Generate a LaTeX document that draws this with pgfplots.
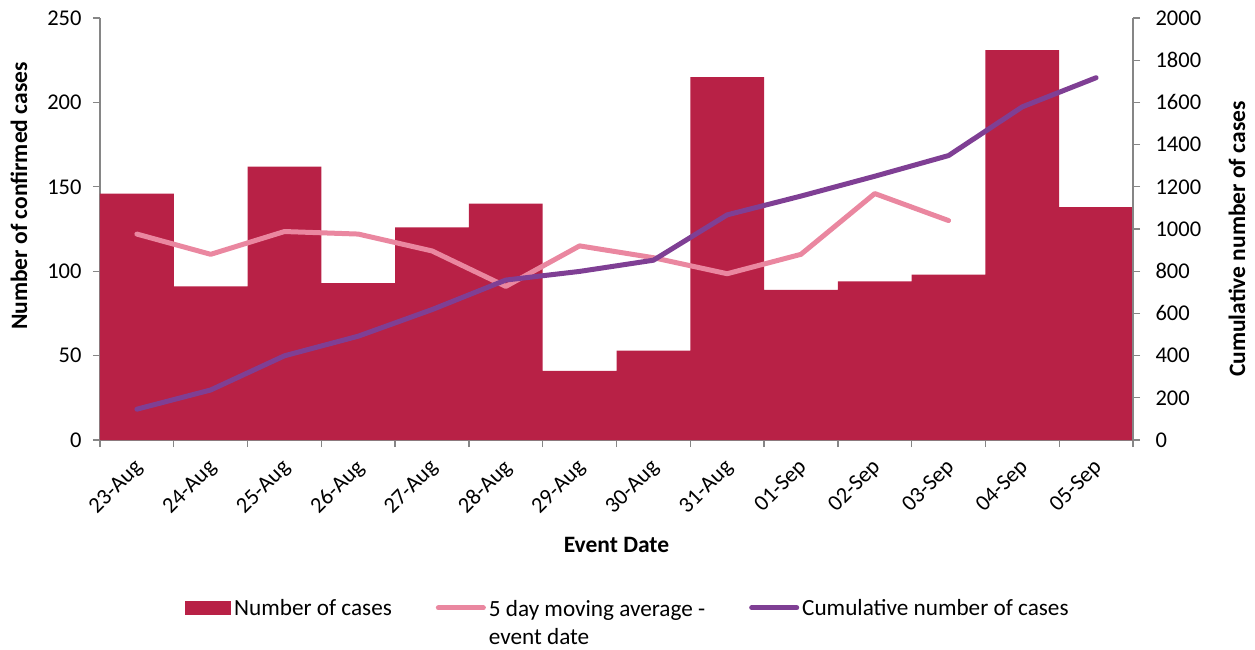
\documentclass[border=0pt]{standalone}
\usepackage{pgfplots}
\pgfplotsset{compat=1.18}
\usepackage{pgfplotstable}
\usepackage{fontspec}
\setmainfont{Carlito}
\definecolor{barc}{RGB}{184,33,70}
\definecolor{pinkc}{RGB}{234,135,160}
\definecolor{purpc}{RGB}{127,63,148}
\definecolor{axc}{RGB}{134,134,134}

\pgfplotstableread{
x cases cum
0 146 146
1 91 237
2 162 399
3 93 492
4 126 618
5 140 758
6 41 799
7 53 852
8 215 1067
9 89 1156
10 94 1250
11 98 1348
12 231 1579
13 138 1717
}\casedata

\pgfplotstableread{
x ma
0 122
1 110
2 123.5
3 122
4 112
5 91
6 115
7 108
8 98.5
9 110
10 146
11 130
}\madata

\pgfplotsset{
  common/.style={
    scale only axis, width=1033pt, height=422pt,
    xmin=-0.5, xmax=13.5, ymin=0,
    axis line style={axc, line width=1.3pt},
    tick style={axc, line width=1.3pt},
    major tick length=7pt,
    tick align=outside,
    /pgf/number format/assume math mode=true,
    /pgf/number format/1000 sep={},
    tick label style={font=\fontsize{22.5}{26}\selectfont, black},
    label style={font=\fontsize{23.5}{28}\selectfont\bfseries, black},
  }
}

\begin{document}
\begin{tikzpicture}
\begin{axis}[common, name=main,
  axis y line*=left, axis x line*=bottom,
  ymax=250, ytick={0,50,...,250},
  yticklabel style={xshift=-8pt},
  xtick={-0.5,0.5,...,13.5}, xticklabels={},
  extra x ticks={0,1,...,13},
  extra x tick labels={23-Aug,24-Aug,25-Aug,26-Aug,27-Aug,28-Aug,29-Aug,30-Aug,31-Aug,01-Sep,02-Sep,03-Sep,04-Sep,05-Sep},
  extra x tick style={major tick length=0pt, xticklabel style={xshift=-4pt, yshift=-13pt, rotate=45, anchor=north east}},
  xlabel={Event Date},
  xlabel style={at={(rel axis cs:0.5,-0.249)}, anchor=center},
  ylabel={Number of confirmed cases},
  ylabel style={at={(rel axis cs:-0.0784,0.578)}, anchor=center, rotate=0},
  legend columns=3,
  legend style={at={(rel axis cs:0.5115,-0.365)}, anchor=north, draw=none, fill=none,
    font=\fontsize{23.2}{28}\selectfont,
    /tikz/every even column/.append style={column sep=41pt},
    /tikz/every odd column/.append style={column sep=0pt},
    nodes={inner xsep=3pt, inner ysep=1pt}},
  legend cell align=left,
]
\addplot[ybar, bar width=1, fill=barc, draw=none,
  legend image code/.code={\fill[barc] (0pt,-7pt) rectangle (46pt,7pt);}]
  table[x=x, y=cases] {\casedata};
\addlegendentry{Number of cases}
\addplot[pinkc, line width=5pt, line join=round, line cap=round,
  legend image code/.code={\draw[pinkc, line width=5pt, line cap=round] (2pt,0pt) -- (47pt,0pt);}]
  table[x=x, y=ma] {\madata};
\addlegendentry{\begin{tabular}[t]{@{}l@{}}5 day moving average -\\event date\end{tabular}}
\addlegendimage{legend image code/.code={\draw[purpc, line width=5pt, line cap=round] (2pt,0pt) -- (47pt,0pt);}}
\addlegendentry{Cumulative number of cases}
\end{axis}
\begin{axis}[common,
  axis y line*=right, axis x line=none,
  ymax=2000, ytick={0,200,...,2000},
  yticklabel style={xshift=12pt},
  ylabel={Cumulative number of cases},
  ylabel style={at={(rel axis cs:1.1007,0.476)}, anchor=center},
]
\addplot[purpc, line width=5pt, line join=round, line cap=round]
  table[x=x, y=cum] {\casedata};
\end{axis}
\pgfresetboundingbox
\path[use as bounding box] ([shift={(-100pt,-210pt)}]main.south west) rectangle ([shift={(122pt,18pt)}]main.north east);
\end{tikzpicture}
\end{document}
